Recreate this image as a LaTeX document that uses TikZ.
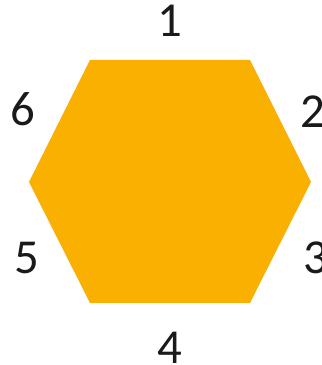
\documentclass[tikz,border=0pt]{standalone}
\usepackage{fontspec}
\setmainfont{Carlito}
\definecolor{hexfill}{RGB}{249,176,0}
\definecolor{digit}{RGB}{26,26,26}
\begin{document}
\begin{tikzpicture}[x=1bp,y=1bp,
  lab/.style={anchor=base,inner sep=0pt,text=digit,font=\fontsize{49}{50}\selectfont}]
\useasboundingbox (0,0) rectangle (322,365);
\coordinate (v1) at (90,305);
\coordinate (v2) at (250,305);
\coordinate (v3) at (311,183);
\coordinate (v4) at (250,62);
\coordinate (v5) at (90,62);
\coordinate (v6) at (29,183);
\fill[hexfill] (v1) -- (v2) -- (v3) -- (v4) -- (v5) -- (v6) -- cycle;
\node[lab] (n1) at (170,329) {1};
\node[lab] (n2) at (312.5,238) {2};
\node[lab] (n3) at (316,92) {3};
\node[lab] (n4) at (170,2) {4};
\node[lab] (n5) at (27,92) {5};
\node[lab] (n6) at (22.5,240) {6};
\end{tikzpicture}
\end{document}
